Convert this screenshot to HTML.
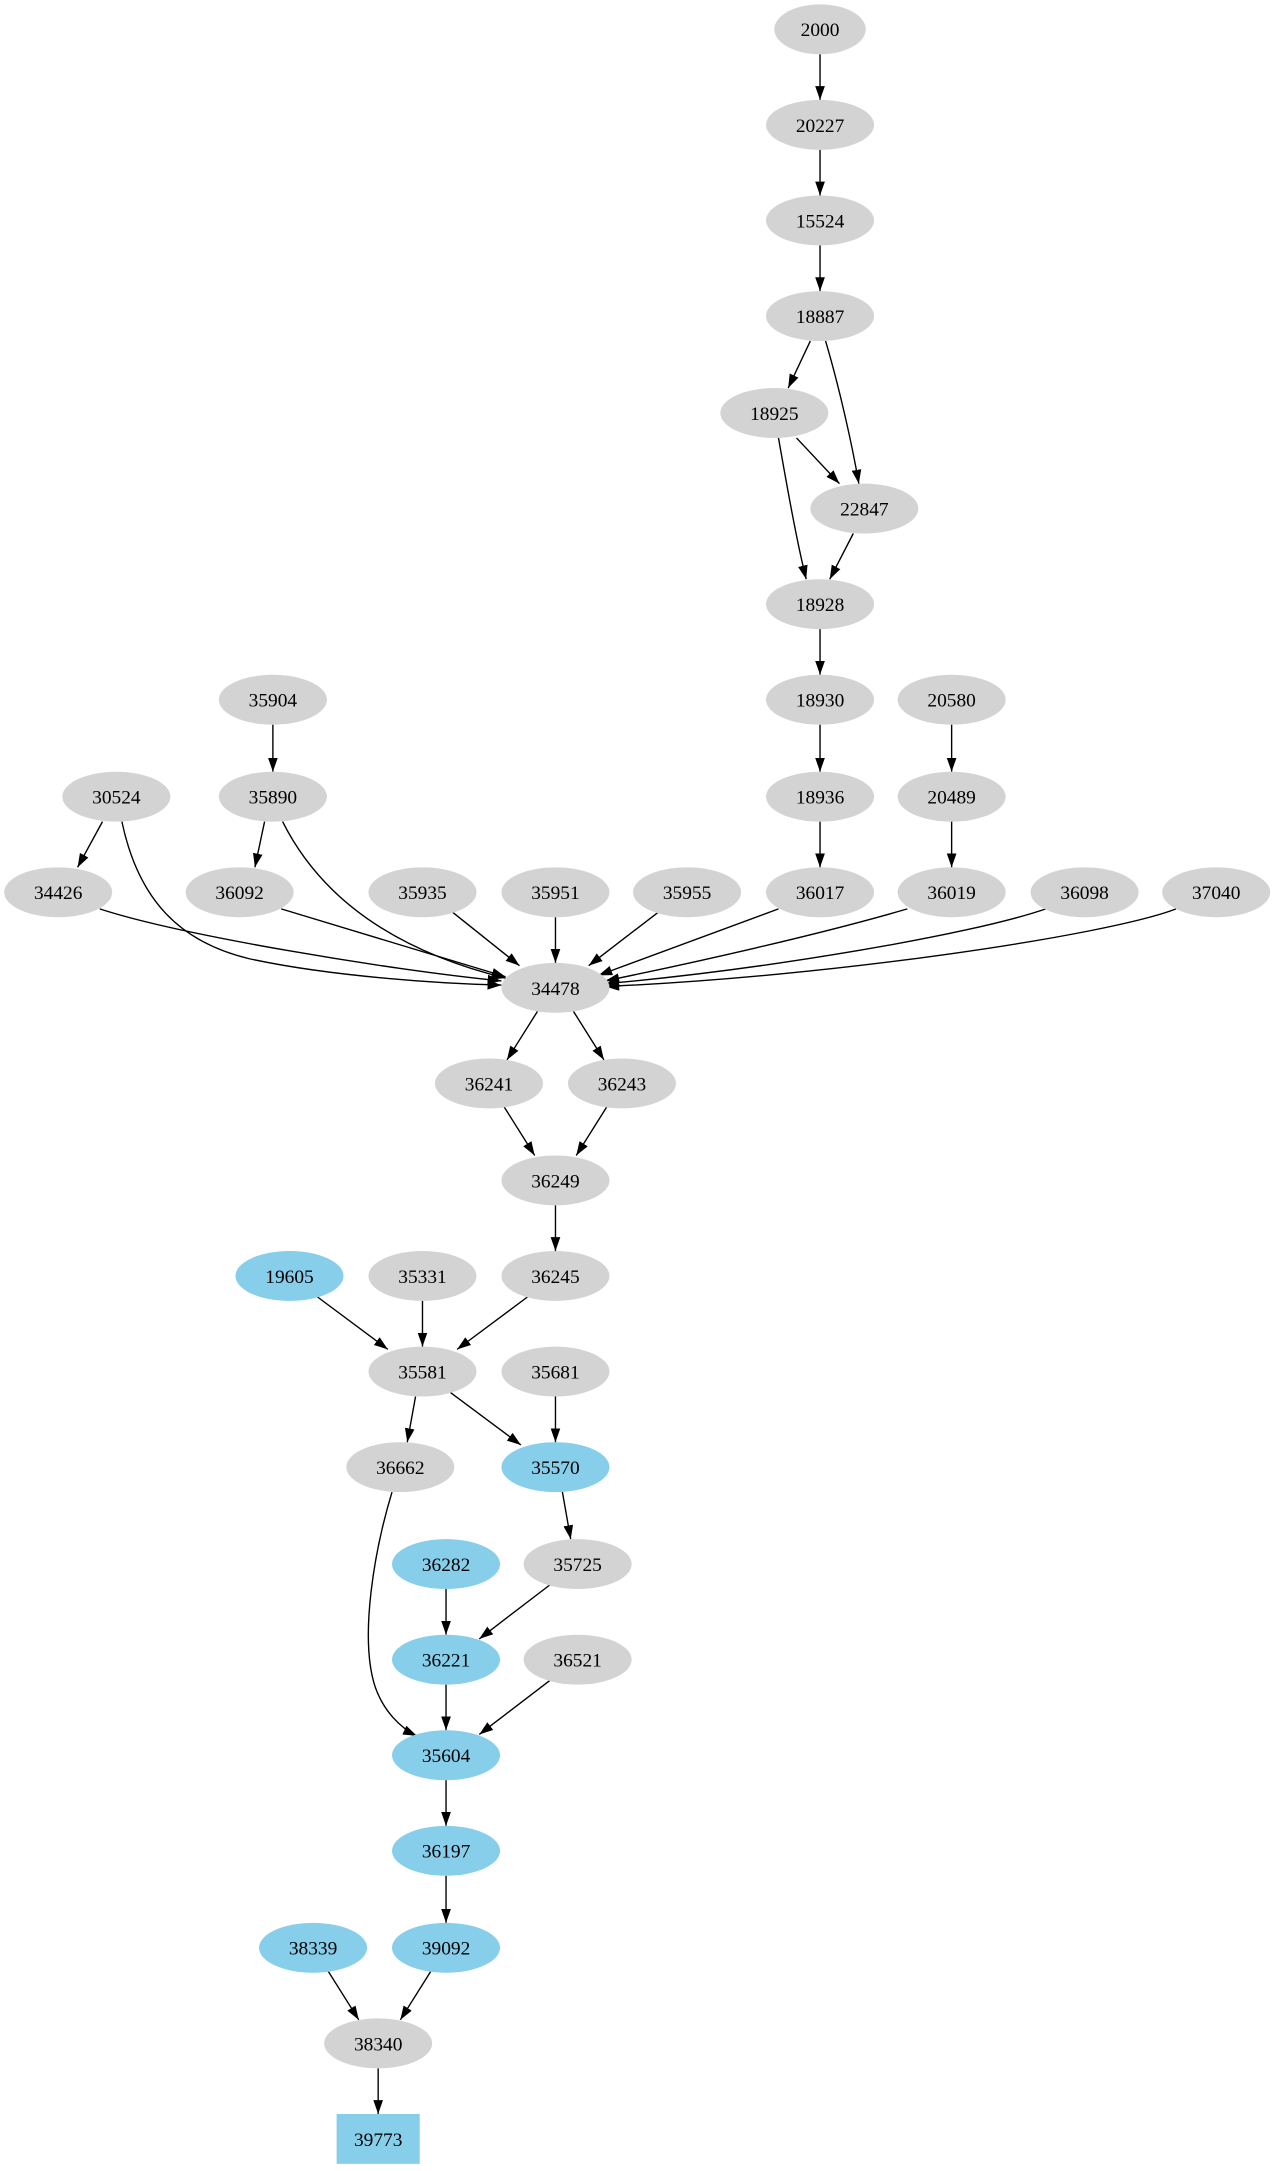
<!DOCTYPE html>
<html><head><meta charset="utf-8"><style>html,body{margin:0;padding:0;background:#fff}svg{display:block}</style></head>
<body>
<svg width="1273" height="2171" viewBox="0 0 919 1567" xmlns="http://www.w3.org/2000/svg">
<defs><marker id="a" markerUnits="userSpaceOnUse" markerWidth="12" markerHeight="10" refX="10" refY="3.5" orient="auto"><path d="M0,0 L10,3.5 L0,7 Z" fill="#000"/></marker></defs>
<g fill="none" stroke="#000" stroke-width="1" marker-end="url(#a)">
<path d="M592,39 L592,72"/>
<path d="M592,108 L592,141"/>
<path d="M592,177 L592,210"/>
<path d="M585,246 L569,280"/>
<path d="M596,246 C606,280 615,320 620,349"/>
<path d="M575,316 L606,349"/>
<path d="M562,316 C568,350 575,390 582,418"/>
<path d="M616,385 L599,418"/>
<path d="M592,454 L592,487"/>
<path d="M592,523 L592,557"/>
<path d="M687,523 L687,557"/>
<path d="M592,593 L592,626"/>
<path d="M687,593 L687,626"/>
<path d="M197,523 L197,557"/>
<path d="M74,593 L56,626"/>
<path d="M88,593 C100,650 130,680 180,692 C240,705 320,710 362,711"/>
<path d="M72,656 C130,675 280,700 362,708"/>
<path d="M191,593 L184,626"/>
<path d="M204,593 C230,645 280,685 365,706"/>
<path d="M203,656 L365,705"/>
<path d="M325,657 L375,697"/>
<path d="M401,662 L401,695"/>
<path d="M477,657 L425,697"/>
<path d="M562,656 L432,704"/>
<path d="M655,656 C590,675 500,695 437,708"/>
<path d="M755,656 C700,675 550,700 437,710"/>
<path d="M849,656 C800,675 600,705 437,712"/>
<path d="M388,730 L366,765"/>
<path d="M414,730 L436,765"/>
<path d="M364,799 L386,834"/>
<path d="M438,799 L416,834"/>
<path d="M401,870 L401,903"/>
<path d="M229,936 L280,974"/>
<path d="M305,939 L305,972"/>
<path d="M381,936 L330,974"/>
<path d="M300,1008 L294,1041"/>
<path d="M325,1005 L376,1043"/>
<path d="M401,1008 L401,1041"/>
<path d="M406,1077 L412,1111"/>
<path d="M322,1147 L322,1180"/>
<path d="M397,1144 L346,1183"/>
<path d="M283,1077 C270,1120 260,1180 270,1215 C276,1235 290,1248 301,1253"/>
<path d="M322,1216 L322,1249"/>
<path d="M397,1213 L346,1252"/>
<path d="M322,1285 L322,1318"/>
<path d="M322,1354 L322,1388"/>
<path d="M237,1423 L259,1458"/>
<path d="M311,1423 L289,1458"/>
<path d="M273,1493 L273,1526"/>
</g>
<g font-family="Liberation Serif, serif" font-size="14" text-anchor="middle">
<g fill="#d3d3d3">
<ellipse cx="592" cy="21" rx="33" ry="18"/>
<ellipse cx="592" cy="90" rx="39" ry="18"/>
<ellipse cx="592" cy="159" rx="39" ry="18"/>
<ellipse cx="592" cy="228" rx="39" ry="18"/>
<ellipse cx="559" cy="298" rx="39" ry="18"/>
<ellipse cx="624" cy="367" rx="39" ry="18"/>
<ellipse cx="592" cy="436" rx="39" ry="18"/>
<ellipse cx="592" cy="505" rx="39" ry="18"/>
<ellipse cx="197" cy="505" rx="39" ry="18"/>
<ellipse cx="687" cy="505" rx="39" ry="18"/>
<ellipse cx="84" cy="575" rx="39" ry="18"/>
<ellipse cx="197" cy="575" rx="39" ry="18"/>
<ellipse cx="592" cy="575" rx="39" ry="18"/>
<ellipse cx="687" cy="575" rx="39" ry="18"/>
<ellipse cx="42" cy="644" rx="39" ry="18"/>
<ellipse cx="173" cy="644" rx="39" ry="18"/>
<ellipse cx="305" cy="644" rx="39" ry="18"/>
<ellipse cx="401" cy="644" rx="39" ry="18"/>
<ellipse cx="496" cy="644" rx="39" ry="18"/>
<ellipse cx="592" cy="644" rx="39" ry="18"/>
<ellipse cx="687" cy="644" rx="39" ry="18"/>
<ellipse cx="783" cy="644" rx="39" ry="18"/>
<ellipse cx="878" cy="644" rx="39" ry="18"/>
<ellipse cx="401" cy="713" rx="39" ry="18"/>
<ellipse cx="353" cy="782" rx="39" ry="18"/>
<ellipse cx="449" cy="782" rx="39" ry="18"/>
<ellipse cx="401" cy="852" rx="39" ry="18"/>
<ellipse cx="305" cy="921" rx="39" ry="18"/>
<ellipse cx="401" cy="921" rx="39" ry="18"/>
<ellipse cx="305" cy="990" rx="39" ry="18"/>
<ellipse cx="401" cy="990" rx="39" ry="18"/>
<ellipse cx="289" cy="1059" rx="39" ry="18"/>
<ellipse cx="417" cy="1129" rx="39" ry="18"/>
<ellipse cx="417" cy="1198" rx="39" ry="18"/>
<ellipse cx="273" cy="1475" rx="39" ry="18"/>
</g>
<g fill="#87ceeb">
<ellipse cx="209" cy="921" rx="39" ry="18"/>
<ellipse cx="401" cy="1059" rx="39" ry="18"/>
<ellipse cx="322" cy="1129" rx="39" ry="18"/>
<ellipse cx="322" cy="1198" rx="39" ry="18"/>
<ellipse cx="322" cy="1267" rx="39" ry="18"/>
<ellipse cx="322" cy="1336" rx="39" ry="18"/>
<ellipse cx="226" cy="1406" rx="39" ry="18"/>
<ellipse cx="322" cy="1406" rx="39" ry="18"/>
<rect x="243" y="1526" width="60" height="36"/>
</g>
<g fill="#000">
<text x="592" y="26">2000</text>
<text x="592" y="95">20227</text>
<text x="592" y="164">15524</text>
<text x="592" y="233">18887</text>
<text x="559" y="303">18925</text>
<text x="624" y="372">22847</text>
<text x="592" y="441">18928</text>
<text x="592" y="510">18930</text>
<text x="197" y="510">35904</text>
<text x="687" y="510">20580</text>
<text x="84" y="580">30524</text>
<text x="197" y="580">35890</text>
<text x="592" y="580">18936</text>
<text x="687" y="580">20489</text>
<text x="42" y="649">34426</text>
<text x="173" y="649">36092</text>
<text x="305" y="649">35935</text>
<text x="401" y="649">35951</text>
<text x="496" y="649">35955</text>
<text x="592" y="649">36017</text>
<text x="687" y="649">36019</text>
<text x="783" y="649">36098</text>
<text x="878" y="649">37040</text>
<text x="401" y="718">34478</text>
<text x="353" y="787">36241</text>
<text x="449" y="787">36243</text>
<text x="401" y="857">36249</text>
<text x="209" y="926">19605</text>
<text x="305" y="926">35331</text>
<text x="401" y="926">36245</text>
<text x="305" y="995">35581</text>
<text x="401" y="995">35681</text>
<text x="289" y="1064">36662</text>
<text x="401" y="1064">35570</text>
<text x="322" y="1134">36282</text>
<text x="417" y="1134">35725</text>
<text x="322" y="1203">36221</text>
<text x="417" y="1203">36521</text>
<text x="322" y="1272">35604</text>
<text x="322" y="1341">36197</text>
<text x="226" y="1411">38339</text>
<text x="322" y="1411">39092</text>
<text x="273" y="1480">38340</text>
<text x="273" y="1549">39773</text>
</g>
</g>
</svg>
</body></html>
